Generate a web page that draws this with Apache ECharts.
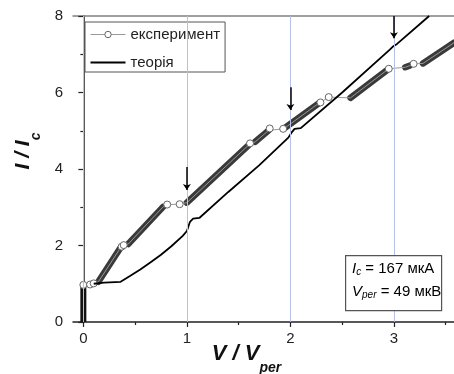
<!DOCTYPE html>
<html><head><meta charset="utf-8">
<script src="https://cdn.jsdelivr.net/npm/echarts@6/dist/echarts.min.js"></script>
<style>html,body{margin:0;padding:0;background:#fff}#c{width:454px;height:374px}</style>
</head><body><div id="c"></div>
<script>
// ---- data ----
const xTicks = [0, 1, 2, 3];
const xMinorTicks = [0.5, 1.5, 2.5, 3.5];
const gridLinesV = [0, 1, 2, 3];

const theoryV = [0.1, 0.2, 0.36, 0.45, 0.55, 0.65, 0.75, 0.85, 0.96, 1.0, 1.03, 1.06, 1.12, 1.4, 1.7, 1.98, 2.01, 2.04, 2.1, 2.5, 2.96, 2.99, 3.03, 3.34];
const theoryI = [1.0, 1.03, 1.05, 1.2, 1.37, 1.56, 1.76, 1.98, 2.25, 2.38, 2.62, 2.70, 2.72, 3.4, 4.1, 4.82, 4.95, 5.05, 5.07, 6.0, 7.12, 7.2, 7.27, 8.0];

// isolated experimental points (open circles)
const expCircleV = [0, 0.065, 0.10, 0.37, 0.39, 0.81, 0.93, 1.61, 1.80, 1.93, 2.29, 2.37, 2.95, 3.19];
const expCircleI = [0.97, 0.98, 1.01, 1.97, 2.01, 3.07, 3.08, 4.67, 5.06, 5.05, 5.74, 5.88, 6.62, 6.75];

// dense runs of experimental points (start / end of each run)
const expRunStartV = [0, 0.145, 0.434, 1.0, 1.66, 1.95, 2.58, 3.11, 3.28];
const expRunStartI = [0, 1.05, 2.04, 3.12, 4.71, 5.08, 5.86, 6.66, 6.76];
const expRunEndV   = [0, 0.354, 0.77, 1.594, 1.79, 2.27, 2.93, 3.15, 3.58];
const expRunEndI   = [0.92, 1.92, 3.01, 4.62, 5.01, 5.71, 6.58, 6.70, 7.30];

const arrowV = [1, 2, 3];
const arrowFromI = [4.05, 6.14, 8.0];
const arrowToI = [3.45, 5.54, 7.42];

// ---- build ----
const FONT = 'Liberation Sans, Arial, sans-serif';
const theoryData = theoryV.map((v, i) => [v, theoryI[i]]);

let pts = [];
expCircleV.forEach((v, i) => pts.push({ value: [v, expCircleI[i]] }));
expRunStartV.forEach((v, i) => {
  if (i === 0) return; // vertical run at V = 0 is drawn only as the solid bar
  pts.push({ value: [v, expRunStartI[i]], symbol: 'none' });
  pts.push({ value: [expRunEndV[i], expRunEndI[i]], symbol: 'none' });
});
pts.sort((a, b) => a.value[0] - b.value[0] || a.value[1] - b.value[1]);

const runSeries = expRunStartV.map((v, i) => ({
  type: 'line', name: 'run' + i, silent: true, z: 2,
  data: [[v, expRunStartI[i]], [expRunEndV[i], expRunEndI[i]]],
  symbol: 'none',
  lineStyle: { color: i === 0 ? '#111' : '#3a3a3a', width: i === 0 ? 6 : 6.5, cap: i === 0 ? 'butt' : 'round' }
}));

const subRich = (mainSize, subSize, subLH) => ({
  m: { fontSize: mainSize, fontWeight: 'bold', fontStyle: 'italic', fontFamily: FONT, color: '#111', lineHeight: mainSize, verticalAlign: 'top' },
  s: { fontSize: subSize, fontWeight: 'bold', fontStyle: 'italic', fontFamily: FONT, color: '#111', lineHeight: subLH, verticalAlign: 'bottom' }
});

const option = {
  animation: false,
  backgroundColor: '#fff',
  grid: { left: 73, top: 16, right: 0, bottom: 52, outerBoundsMode: 'none', containLabel: false },
  legend: {
    left: 85, top: 22, orient: 'vertical',
    data: [
      { name: 'експеримент', lineStyle: { width: 1, color: '#999' }, itemStyle: { color: '#fff', borderColor: '#666', borderWidth: 1 } },
      { name: 'теорія', icon: 'path://M0,0 L35,0 L35,2 L0,2 Z', itemStyle: { color: '#000' } }
    ],
    itemWidth: 35, itemHeight: 8, itemGap: 13,
    padding: [5, 5, 2, 5],
    borderColor: '#555', borderWidth: 1, backgroundColor: '#fff',
    textStyle: { fontFamily: FONT, fontSize: 15, color: '#222' }
  },
  xAxis: [
    {
      type: 'value', min: -0.1, max: 3.58, position: 'bottom',
      name: '{m|V / V}{s|per}', nameLocation: 'middle', nameGap: 21, nameMoveOverlap: false,
      nameTextStyle: { rich: subRich(22, 14, 32), padding: [0, 34, 0, 0] },
      axisLine: { show: true, lineStyle: { color: '#222', width: 1.5 } },
      axisTick: { show: true, customValues: xTicks, length: 5, lineStyle: { color: '#222', width: 1.2 } },
      axisLabel: { customValues: xTicks, fontFamily: FONT, fontSize: 15, color: '#222', margin: 9 },
      splitLine: { show: false }
    },
    {
      type: 'value', min: -0.1, max: 3.58, position: 'bottom',
      axisLine: { show: false },
      axisTick: { show: true, customValues: xMinorTicks, length: 3, lineStyle: { color: '#222', width: 1.2 } },
      axisLabel: { show: false }, splitLine: { show: false }
    },
    {
      type: 'value', min: -0.1, max: 3.58, position: 'top',
      axisLine: { show: true, lineStyle: { color: '#808080', width: 1.5 } },
      axisTick: { show: false }, axisLabel: { show: false }, splitLine: { show: false }
    }
  ],
  yAxis: {
    type: 'value', min: 0, max: 8, interval: 2,
    name: '{m|I / I}{s|c}', nameLocation: 'middle', nameGap: 29.5, nameRotate: 90, nameMoveOverlap: false,
    nameTextStyle: { rich: subRich(21, 14, 31), padding: [0, 0, 0, 36] },
    axisLine: { show: true, lineStyle: { color: '#222', width: 1.5 } },
    axisTick: { show: true, length: 5, lineStyle: { color: '#222', width: 1.2 } },
    minorTick: { show: true, splitNumber: 2, length: 3, lineStyle: { color: '#222', width: 1.2 } },
    axisLabel: { fontFamily: FONT, fontSize: 15, color: '#222', margin: 10 },
    splitLine: { show: false }
  },
  series: [
    {
      type: 'line', name: 'grid', data: [], silent: true, z: 1,
      markLine: {
        silent: true, symbol: 'none', label: { show: false },
        lineStyle: { color: '#b7c0e8', width: 1, type: 'solid' },
        data: gridLinesV.map(v => ({ xAxis: v }))
      }
    },
    ...runSeries,
    {
      type: 'line', name: 'експеримент', z: 3,
      data: pts,
      symbol: 'circle', symbolSize: 7, showAllSymbol: true,
      lineStyle: { color: '#999', width: 1 },
      itemStyle: { color: '#fff', borderColor: '#666', borderWidth: 1 }
    },
    {
      type: 'line', name: 'теорія', z: 4,
      data: theoryData, symbol: 'none',
      lineStyle: { color: '#000', width: 1.8 },
      itemStyle: { color: '#000' }
    },
    {
      type: 'line', name: 'arrows', data: [], z: 5, silent: true,
      markLine: {
        silent: true, symbol: ['none', 'arrow'], symbolSize: 6, label: { show: false },
        lineStyle: { color: '#000', width: 1.5, type: 'solid' },
        data: arrowV.map((v, i) => [{ coord: [v, arrowFromI[i]] }, { coord: [v, arrowToI[i]] }])
      }
    }
  ],
  graphic: [
    { type: 'rect', left: 345, top: 255, shape: { width: 96, height: 55 }, style: { fill: '#fff', stroke: '#555', lineWidth: 1.2 }, z: 10 },
    {
      type: 'text', x: 352, y: 261, z: 11,
      style: {
        text: '{i|I}{s|c}{n| = 167 мкА}',
        rich: {
          i: { fontSize: 15, fontStyle: 'italic', fontFamily: FONT, color: '#222', lineHeight: 16, verticalAlign: 'top' },
          s: { fontSize: 10, fontStyle: 'italic', fontFamily: FONT, color: '#222', lineHeight: 10, padding: [12, 0, 0, 0], verticalAlign: 'bottom' },
          n: { fontSize: 15, fontFamily: FONT, color: '#222', lineHeight: 16, verticalAlign: 'top' }
        }
      }
    },
    {
      type: 'text', x: 352, y: 284, z: 11,
      style: {
        text: '{i|V}{s|per}{n| = 49 мкВ}',
        rich: {
          i: { fontSize: 15, fontStyle: 'italic', fontFamily: FONT, color: '#222', lineHeight: 16, verticalAlign: 'top' },
          s: { fontSize: 10, fontStyle: 'italic', fontFamily: FONT, color: '#222', lineHeight: 10, padding: [12, 0, 0, 0], verticalAlign: 'bottom' },
          n: { fontSize: 15, fontFamily: FONT, color: '#222', lineHeight: 16, verticalAlign: 'top' }
        }
      }
    }
  ]
};
const chart = echarts.init(document.getElementById('c'), null, { renderer: 'canvas' });
chart.setOption(option);
</script>
</body></html>
